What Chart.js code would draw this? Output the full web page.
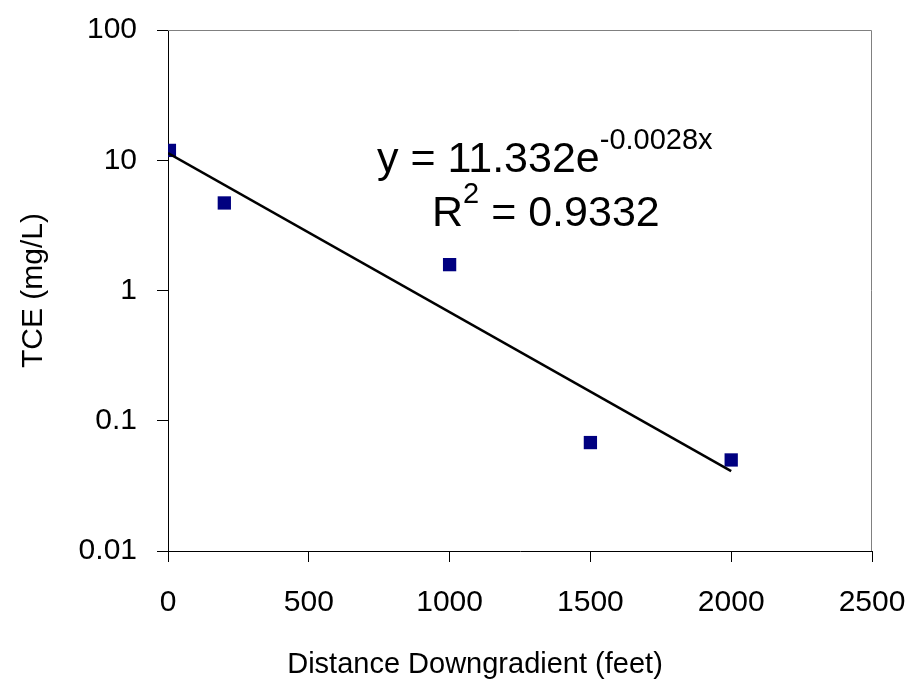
<!DOCTYPE html>
<html>
<head>
<meta charset="utf-8">
<script src="https://cdn.jsdelivr.net/npm/chart.js@4/dist/chart.umd.min.js"></script>
<style>
  html, body { margin: 0; padding: 0; background: #fff; }
  #wrap { width: 916px; height: 686px; }
</style>
</head>
<body>
<div id="wrap"><canvas id="chart" width="916" height="686"></canvas></div>
<script>
// values
const distances = [5, 200, 1000, 1500, 2000];
const tce = [11.9, 4.7, 1.58, 0.068, 0.05];
const trendX = [0, 2000];
const trendY = [11.332, 0.041];
const xTicks = [0, 500, 1000, 1500, 2000, 2500];
const yTicks = [0.01, 0.1, 1, 10, 100];

const font = "'Liberation Sans', Arial, sans-serif";

// keep the plot box where the reference has it
function noPad(s) {
  s.paddingTop = 0;
  s.paddingBottom = 0;
  s.paddingLeft = 0;
  s.paddingRight = 0;
}

const extras = {
  id: 'extras',
  afterDraw(chart) {
    const ctx = chart.ctx;
    const a = chart.chartArea;
    ctx.save();
    // grey frame on top / right
    ctx.strokeStyle = '#808080';
    ctx.lineWidth = 1;
    ctx.beginPath();
    ctx.moveTo(a.left, a.top + 0.5);
    ctx.lineTo(a.right - 0.5, a.top + 0.5);
    ctx.lineTo(a.right - 0.5, a.bottom);
    ctx.stroke();

    ctx.fillStyle = '#000';
    // axis titles
    ctx.font = '29px ' + font;
    ctx.textAlign = 'center';
    ctx.textBaseline = 'middle';
    ctx.fillText('Distance Downgradient (feet)', 475, 665);
    ctx.save();
    ctx.translate(34, (a.top + a.bottom) / 2);
    ctx.rotate(-Math.PI / 2);
    ctx.font = '30px ' + font;
    ctx.fillText('TCE (mg/L)', 0, 0);
    ctx.restore();

    // trendline equation
    ctx.textAlign = 'left';
    ctx.textBaseline = 'alphabetic';
    ctx.font = '43px ' + font;
    let x = 377;
    const l1 = 'y = 11.332e';
    ctx.fillText(l1, x, 172);
    x += ctx.measureText(l1).width;
    ctx.font = '29px ' + font;
    ctx.fillText('-0.0028x', x, 149);

    ctx.font = '43px ' + font;
    x = 432;
    ctx.fillText('R', x, 226);
    x += ctx.measureText('R').width;
    ctx.font = '29px ' + font;
    ctx.fillText('2', x, 203);
    x += ctx.measureText('2').width;
    ctx.font = '43px ' + font;
    ctx.fillText(' = 0.9332', x, 226);
    ctx.restore();
  }
};

new Chart(document.getElementById('chart'), {
  type: 'scatter',
  data: {
    datasets: [
      {
        label: 'TCE',
        data: distances.map((d, i) => ({ x: d, y: tce[i] })),
        pointStyle: 'rect',
        pointRadius: 9.4,
        backgroundColor: '#000080',
        borderColor: '#000080',
        borderWidth: 0,
        order: 2
      },
      {
        label: 'Trend',
        data: trendX.map((d, i) => ({ x: d, y: trendY[i] })),
        showLine: true,
        pointRadius: 0,
        borderColor: '#000',
        borderWidth: 2.5,
        order: 1
      }
    ]
  },
  options: {
    responsive: false,
    animation: false,
    layout: { padding: { top: 30, right: 44, left: 0, bottom: 0 } },
    plugins: { legend: { display: false }, tooltip: { enabled: false } },
    scales: {
      x: {
        type: 'linear',
        min: 0,
        max: 2500,
        afterBuildTicks: (s) => { s.ticks = xTicks.map(v => ({ value: v })); },
        afterFit: (s) => { s.height = 135; noPad(s); },
        grid: { drawOnChartArea: false, tickLength: 11, color: '#000' },
        border: { color: '#000', width: 1 },
        ticks: {
          color: '#000',
          padding: 23,
          maxRotation: 0,
          font: { family: font, size: 30 },
          callback: (v) => String(v)
        }
      },
      y: {
        type: 'logarithmic',
        min: 0.01,
        max: 100,
        afterBuildTicks: (s) => { s.ticks = yTicks.map(v => ({ value: v, major: true })); },
        afterFit: (s) => { s.width = 168; noPad(s); },
        grid: { drawOnChartArea: false, tickLength: 11, color: '#000' },
        border: { color: '#000', width: 1 },
        ticks: {
          color: '#000',
          padding: 20,
          font: { family: font, size: 30 },
          callback: (v) => String(v)
        }
      }
    }
  },
  plugins: [extras]
});
</script>
</body>
</html>
